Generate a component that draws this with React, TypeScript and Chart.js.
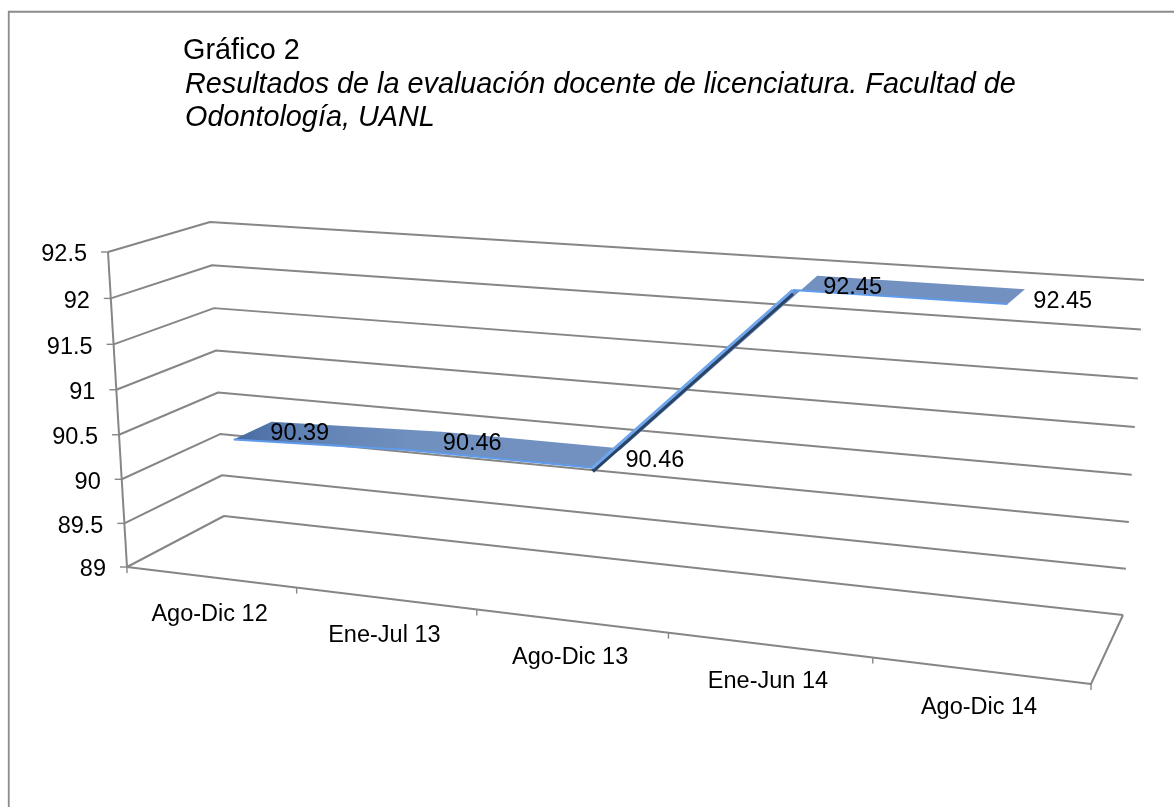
import React, { useEffect, useRef } from "react";
import { Chart, registerables } from "chart.js";

Chart.register(...registerables);

const categories = ["Ago-Dic 12", "Ene-Jul 13", "Ago-Dic 13", "Ene-Jun 14", "Ago-Dic 14"];
const values = [90.39, 90.46, 90.46, 92.45, 92.45];
const labelTexts = ["90.39", "90.46", "90.46", "92.45", "92.45"];
const titleLine = "Gráfico 2";
const subtitleLines = [
  "Resultados de la evaluación docente de licenciatura. Facultad de",
  "Odontología, UANL",
];

const FONT = '"Liberation Sans", Arial, sans-serif';
const GRID = "#868686";
const LABEL_FONT = `23.5px ${FONT}`;

type Pt = [number, number];
const frontQuad: Pt[] = [[127, 567], [1091, 684], [1110, 318], [108, 252]];
const backQuad: Pt[] = [[224, 516], [1123, 615], [1144, 280], [210, 222]];

function homography(q: Pt[]) {
  const [[x0, y0], [x1, y1], [x2, y2], [x3, y3]] = q;
  const dx1 = x1 - x2, dx2 = x3 - x2, sx = x0 - x1 + x2 - x3;
  const dy1 = y1 - y2, dy2 = y3 - y2, sy = y0 - y1 + y2 - y3;
  const det = dx1 * dy2 - dx2 * dy1;
  const g = (sx * dy2 - dx2 * sy) / det;
  const h = (dx1 * sy - sx * dy1) / det;
  const a = x1 - x0 + g * x1, b = x3 - x0 + h * x3;
  const d = y1 - y0 + g * y1, e = y3 - y0 + h * y3;
  return (u: number, v: number): Pt => {
    const w = g * u + h * v + 1;
    return [(a * u + b * v + x0) / w, (d * u + e * v + y0) / w];
  };
}
const hFront = homography(frontQuad);
const hBack = homography(backQuad);
function project(u: number, v: number, z: number): Pt {
  const f = hFront(u, v), b = hBack(u, v);
  return [f[0] + (b[0] - f[0]) * z, f[1] + (b[1] - f[1]) * z];
}

function line(ctx: CanvasRenderingContext2D, pts: Pt[], width = 2, color = GRID) {
  ctx.beginPath();
  pts.forEach((p, i) => (i ? ctx.lineTo(p[0], p[1]) : ctx.moveTo(p[0], p[1])));
  ctx.strokeStyle = color;
  ctx.lineWidth = width;
  ctx.lineJoin = "round";
  ctx.stroke();
}

const perspective = {
  id: "perspective",
  afterDatasetsUpdate(chart: any) {
    const area = chart.chartArea;
    chart.data.datasets.forEach((ds: any, i: number) => {
      const meta = chart.getDatasetMeta(i);
      for (const el of meta.data) {
        const u = (el.x - area.left) / area.width;
        const v = (area.bottom - el.y) / area.height;
        const p = project(u, v, ds.depth);
        el.x = p[0];
        el.y = p[1] + (ds.drop || 0);
      }
    });
  },
  beforeDatasetsDraw(chart: any) {
    const { ctx, chartArea: area, scales } = chart;
    ctx.save();
    // frame
    ctx.strokeStyle = "#8c8c8c";
    ctx.lineWidth = 1.8;
    ctx.beginPath();
    ctx.moveTo(8.75, 807);
    ctx.lineTo(8.75, 11.75);
    ctx.lineTo(1174, 11.75);
    ctx.stroke();
    // title
    ctx.fillStyle = "#000";
    ctx.textAlign = "left";
    ctx.textBaseline = "alphabetic";
    ctx.font = `28.8px ${FONT}`;
    ctx.fillText(titleLine, 183, 59);
    ctx.font = `italic 28.8px ${FONT}`;
    subtitleLines.forEach((t, i) => ctx.fillText(t, 185, 93 + i * 33));

    // walls, floor, grid
    for (const t of scales.y.ticks) {
      const v = (area.bottom - scales.y.getPixelForValue(t.value)) / area.height;
      const a = project(0, v, 0), b = project(0, v, 1), c = project(1, v, 1);
      line(ctx, [a, b, c]);
      line(ctx, [[a[0] - 7, a[1]], a], 1.4);
      ctx.fillStyle = "#000";
      ctx.font = LABEL_FONT;
      ctx.textAlign = "right";
      ctx.textBaseline = "middle";
      ctx.fillText(String(t.value), a[0] - 21, a[1] + 3);
    }
    line(ctx, [project(0, 0, 0), project(0, 1, 0)]);
    line(ctx, [project(0, 0, 0), project(1, 0, 0), project(1, 0, 1)]);
    const n = categories.length;
    for (let k = 0; k <= n; k++) {
      const p = project(k / n, 0, 0);
      line(ctx, [p, [p[0], p[1] + 6]], 1.4);
    }
    categories.forEach((_, i) => {
      const u = (scales.x.getPixelForValue(i) - area.left) / area.width;
      const p = project(u, 0, 0);
      ctx.fillStyle = "#000";
      ctx.font = LABEL_FONT;
      ctx.textAlign = "center";
      ctx.textBaseline = "middle";
      ctx.fillText(scales.x.getLabelForValue(i), p[0] - 1, p[1] + 37);
    });

    // ribbon surface, from the projected points of the two edge datasets
    const front = chart.getDatasetMeta(0).data;
    const back = chart.getDatasetMeta(1).data;
    const grad = ctx.createLinearGradient(front[0].x, 0, front[2].x, 0);
    grad.addColorStop(0, "#466aa2");
    grad.addColorStop(0.18, "#5f80b3");
    grad.addColorStop(0.5, "#7090bf");
    grad.addColorStop(1, "#7391c0");
    const quad = (i: number) => {
      ctx.moveTo(front[i].x, front[i].y);
      ctx.lineTo(front[i + 1].x, front[i + 1].y);
      ctx.lineTo(back[i + 1].x, back[i + 1].y);
      ctx.lineTo(back[i].x, back[i].y);
      ctx.closePath();
    };
    ctx.beginPath();
    quad(0);
    quad(1);
    ctx.fillStyle = grad;
    ctx.fill();
    ctx.beginPath();
    quad(2);
    quad(3);
    ctx.fillStyle = "#7291c0";
    ctx.fill();
    ctx.restore();
  },
  afterDatasetsDraw(chart: any) {
    const { ctx, scales, chartArea: area } = chart;
    const back = chart.getDatasetMeta(1).data;
    ctx.save();
    ctx.fillStyle = "#000";
    ctx.font = LABEL_FONT;
    ctx.textAlign = "center";
    ctx.textBaseline = "middle";
    labelTexts.forEach((t, i) => {
      const u = (scales.x.getPixelForValue(i) - area.left) / area.width;
      ctx.fillText(t, back[i].x + 27 + 12 * u, back[i].y + 12);
    });
    ctx.restore();
  },
};

export default function App() {
  const ref = useRef<HTMLCanvasElement>(null);
  useEffect(() => {
    document.body.style.margin = "0";
    const riseIndex = 2;
    const chart = new Chart(ref.current!, {
      type: "line",
      data: {
        labels: categories,
        datasets: [
          {
            label: "Borde frontal",
            data: values,
            depth: 0.31,
            order: 1,
            borderWidth: 2,
            borderColor: "#5f9bea",
            pointRadius: 0,
            tension: 0,
            clip: false,
            segment: {
              borderColor: (c: any) => (c.p0DataIndex === riseIndex ? "#6fa6ec" : undefined),
              borderWidth: (c: any) => (c.p0DataIndex === riseIndex ? 3 : undefined),
            },
          },
          {
            label: "Borde posterior",
            data: values,
            depth: 0.71,
            order: 3,
            borderWidth: 0,
            borderColor: "rgba(0,0,0,0)",
            pointRadius: 0,
            tension: 0,
            clip: false,
          },
          {
            label: "Grosor",
            data: values,
            depth: 0.31,
            drop: 3.5,
            order: 2,
            borderWidth: 4,
            borderColor: "rgba(0,0,0,0)",
            pointRadius: 0,
            tension: 0,
            clip: false,
            segment: {
              borderColor: (c: any) => (c.p0DataIndex === riseIndex ? "#2a4468" : "rgba(0,0,0,0)"),
            },
          },
        ] as any,
      },
      options: {
        responsive: false,
        animation: false,
        events: [],
        layout: { padding: 0 },
        plugins: { legend: { display: false }, tooltip: { enabled: false } },
        scales: {
          x: { type: "category", offset: true, display: false },
          y: { type: "linear", min: 89, max: 92.5, ticks: { stepSize: 0.5 }, display: false },
        },
      },
      plugins: [perspective],
    });
    return () => chart.destroy();
  }, []);
  return <canvas ref={ref} width={1174} height={807} style={{ display: "block" }} />;
}
